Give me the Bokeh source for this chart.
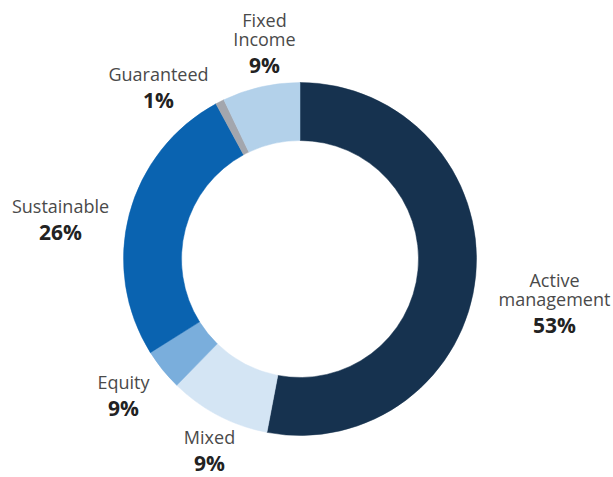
import math
from bokeh.plotting import figure
from bokeh.models import Range1d, ColumnDataSource
from bokeh.core.properties import value
from bokeh.embed import file_html
from bokeh.resources import INLINE

# ---- data ----
categories = ["Active\nmanagement", "Mixed", "Equity", "Sustainable", "Guaranteed", "Fixed\nIncome"]
shares = [53, 9.3, 3.8, 26, 0.8, 7.1]          # slice sizes as drawn
pct_labels = ["53%", "9%", "9%", "26%", "1%", "9%"]  # labels as printed
colors = ["#16324f", "#d4e5f4", "#7aaedc", "#0a63b0", "#a3a6ad", "#b3d1ea"]

# ---- layout ----
W, H = 613, 477
CX, CY = 299.5, H - 258.5
R_OUT, R_IN = 176.5, 118.5
TEXT_SHIFT = 8  # correction for the rendered baseline offset
# label anchor: (x centre, image-y baseline of the percentage line)
label_anchor = [(554, 332), (209, 470), (123, 415), (60, 239), (158, 107), (264, 72)]

p = figure(width=W, height=H, output_backend="svg", toolbar_location=None,
           x_range=Range1d(0, W), y_range=Range1d(0, H),
           min_border=0, outline_line_color=None)
p.axis.visible = False
p.grid.visible = False
p.background_fill_color = "white"
p.border_fill_color = "white"

total = sum(shares)
starts, ends = [], []
cum = 0.0
for s in shares:
    a0 = math.pi / 2 - 2 * math.pi * cum / total
    cum += s
    a1 = math.pi / 2 - 2 * math.pi * cum / total
    starts.append(a0)
    ends.append(a1)

src = ColumnDataSource(dict(start=starts, end=ends, color=colors))
p.annular_wedge(x=CX, y=CY, inner_radius=R_IN, outer_radius=R_OUT,
                start_angle="start", end_angle="end", direction="clock",
                fill_color="color", line_color="color", line_width=0.5, source=src)

nx, ny, nt = [], [], []
px, py, pt = [], [], []
for cat, pct, (ax, ab) in zip(categories, pct_labels, label_anchor):
    ab = ab - TEXT_SHIFT
    px.append(ax); py.append(H - ab); pt.append(pct)
    lines = cat.split("\n")
    base = ab - 26
    for i, ln in enumerate(reversed(lines)):
        nx.append(ax); ny.append(H - (base - 19 * i)); nt.append(ln)

p.text(x=nx, y=ny, text=nt, text_align="center", text_baseline="alphabetic",
       text_font=value("Open Sans"), text_font_size="18px", text_color="#4a4a4a")
p.text(x=px, y=py, text=pt, text_align="center", text_baseline="alphabetic",
       text_font=value("Open Sans"), text_font_size="21px", text_font_style="bold",
       text_color="#222222")

open("out.html", "w").write(file_html(p, INLINE))
